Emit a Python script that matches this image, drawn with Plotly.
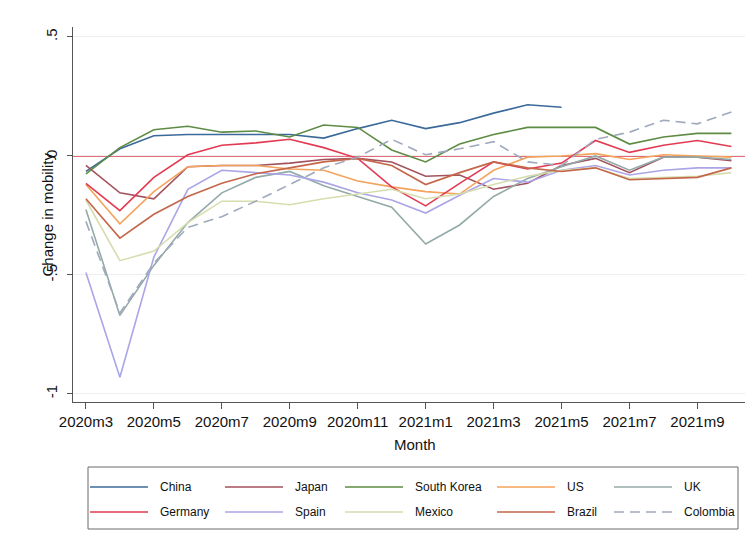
import plotly.graph_objects as go

# Monthly mobility change, 2020m3 .. 2021m10
months = ["2020m3", "2020m4", "2020m5", "2020m6", "2020m7", "2020m8", "2020m9",
          "2020m10", "2020m11", "2020m12", "2021m1", "2021m2", "2021m3", "2021m4",
          "2021m5", "2021m6", "2021m7", "2021m8", "2021m9", "2021m10"]

china = [-0.065, 0.03, 0.085, 0.09, 0.09, 0.09, 0.09, 0.075, 0.115, 0.15, 0.115,
         0.14, 0.18, 0.215, 0.205, None, None, None, None, None]
japan = [-0.04, -0.155, -0.18, -0.045, -0.04, -0.04, -0.03, -0.015, -0.01, -0.025,
         -0.085, -0.08, -0.14, -0.115, -0.04, -0.01, -0.07, -0.005, -0.005, -0.02]
south_korea = [-0.075, 0.035, 0.11, 0.125, 0.10, 0.105, 0.08, 0.13, 0.12, 0.025,
               -0.025, 0.05, 0.09, 0.12, 0.12, 0.12, 0.05, 0.08, 0.095, 0.095]
us = [-0.12, -0.285, -0.15, -0.045, -0.04, -0.04, -0.055, -0.06, -0.105, -0.13,
      -0.15, -0.16, -0.06, -0.005, 0.0, 0.01, -0.015, 0.005, 0.0, -0.005]
uk = [-0.225, -0.67, -0.46, -0.28, -0.155, -0.09, -0.065, -0.125, -0.17, -0.215,
      -0.37, -0.29, -0.17, -0.095, -0.045, 0.0, -0.06, -0.005, -0.005, -0.015]
germany = [-0.115, -0.23, -0.09, 0.005, 0.045, 0.055, 0.07, 0.035, -0.01, -0.13,
           -0.21, -0.115, -0.025, -0.055, -0.03, 0.065, 0.015, 0.045, 0.065, 0.04]
spain = [-0.49, -0.93, -0.425, -0.14, -0.06, -0.07, -0.08, -0.11, -0.155, -0.185,
         -0.24, -0.165, -0.095, -0.11, -0.06, -0.04, -0.08, -0.06, -0.05, -0.05]
mexico = [-0.185, -0.44, -0.40, -0.28, -0.19, -0.19, -0.205, -0.18, -0.16, -0.14,
          -0.18, -0.16, -0.12, -0.085, -0.06, -0.05, -0.095, -0.09, -0.085, -0.07]
brazil = [-0.18, -0.345, -0.245, -0.17, -0.115, -0.075, -0.05, -0.025, -0.01, -0.04,
          -0.12, -0.07, -0.025, -0.05, -0.065, -0.05, -0.10, -0.095, -0.09, -0.05]
colombia = [-0.275, -0.66, -0.45, -0.30, -0.255, -0.19, -0.12, -0.05, -0.005, 0.07,
            0.005, 0.03, 0.06, -0.025, -0.04, 0.07, 0.10, 0.15, 0.135, 0.185]

countries = ["China", "Japan", "South Korea", "US", "UK",
             "Germany", "Spain", "Mexico", "Brazil", "Colombia"]
series = [china, japan, south_korea, us, uk, germany, spain, mexico, brazil, colombia]
colors = ["#3b6a9a", "#a3525e", "#5e8c45", "#f4a35c", "#93aaa8",
          "#e23a53", "#aaa5e6", "#d6ddad", "#c4664a", "#9fa9bb"]
dashes = ["solid"] * 9 + ["10px,6px"]

x_ticks = months[0::2]
y_ticks = [0.5, 0, -0.5, -1]
y_tick_text = [".5", "0", "-.5", "-1"]

FONT = "Liberation Sans, Arial, sans-serif"

# pixel frame of the plotting area
W, H = 753, 553
L, R, T, B = 73, 745, 27, 402
PW, PH = R - L, B - T


def px(x):
    return (x - L) / PW


def py(y):
    return (B - y) / PH


fig = go.Figure()
for name, vals, col, dash in zip(countries, series, colors, dashes):
    fig.add_trace(go.Scatter(
        x=months, y=vals, mode="lines", name=name, showlegend=False,
        line=dict(color=col, width=1.6, dash=dash),
    ))

shapes = [
    # reference line at zero
    dict(type="line", xref="paper", yref="y", x0=0, x1=1, y0=0, y1=0,
         line=dict(color="#d8394c", width=1.6), layer="below"),
    # legend frame
    dict(type="rect", xref="paper", yref="paper",
         x0=px(88), x1=px(738), y0=py(467), y1=py(529),
         line=dict(color="#6a6a6a", width=1), fillcolor="white"),
]
annotations = [
    dict(text="Change in mobility", textangle=-90, xref="paper", yref="paper",
         x=px(47), y=0.5, xanchor="center", yanchor="middle", showarrow=False,
         font=dict(family=FONT, size=15, color="#111")),
    dict(text="Month", xref="paper", yref="paper", x=px(415), y=py(444),
         xanchor="center", yanchor="middle", showarrow=False,
         font=dict(family=FONT, size=15, color="#111")),
]

# legend entries: 5 columns x 2 rows
text_x = [158, 293, 413, 565, 682]
row_y = [487, 512]
for i, (name, col, dash) in enumerate(zip(countries, colors, dashes)):
    c, r = i % 5, i // 5
    tx, ty = text_x[c], row_y[r]
    shapes.append(dict(type="line", xref="paper", yref="paper",
                       x0=px(tx - 68), x1=px(tx - 10), y0=py(ty), y1=py(ty),
                       line=dict(color=col, width=1.6, dash=dash)))
    annotations.append(dict(text=name, xref="paper", yref="paper",
                            x=px(tx), y=py(ty), xanchor="left", yanchor="middle",
                            showarrow=False,
                            font=dict(family=FONT, size=12, color="#111")))

fig.update_layout(
    width=W, height=H,
    margin=dict(l=L, r=W - R, t=T, b=H - B),
    paper_bgcolor="white", plot_bgcolor="white",
    shapes=shapes, annotations=annotations,
    xaxis=dict(
        type="category", range=[-0.38, 19.4],
        tickvals=x_ticks, ticktext=x_ticks,
        ticks="outside", ticklen=6, tickcolor="#555", tickwidth=1,
        showline=True, linecolor="#555", linewidth=1,
        showgrid=False, zeroline=False,
        tickfont=dict(family=FONT, size=15, color="#111"),
    ),
    yaxis=dict(
        range=[-1.034, 0.542],
        tickvals=y_ticks, ticktext=y_tick_text, tickangle=-90,
        ticks="outside", ticklen=5, tickcolor="#555", tickwidth=1,
        ticklabelstandoff=4,
        showline=True, linecolor="#555", linewidth=1,
        showgrid=True, gridcolor="#eeeeee", gridwidth=1, zeroline=False,
        tickfont=dict(family=FONT, size=15, color="#111"),
    ),
)

fig.write_html("out.html")
